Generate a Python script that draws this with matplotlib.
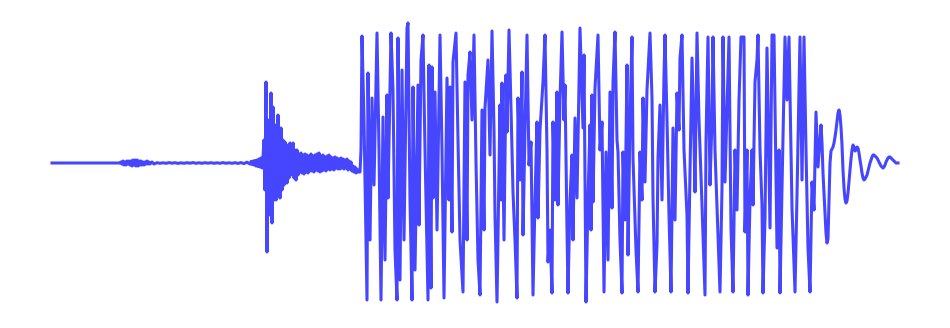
import matplotlib
matplotlib.use("Agg")
import numpy as np
import matplotlib.pyplot as plt

# waveform: time in 10 ms ticks, amplitude in arbitrary units
# quiet start + small first event
t_quiet = [0, 68, 69, 70, 71, 72, 73, 74, 75, 76, 77, 78, 79, 80, 81, 82, 83, 84, 85, 86,
           87, 88, 89, 90, 91, 92, 93, 94, 95, 96, 97, 98, 100, 102]
a_quiet = [0, 0, 1, -1, 2, -2, 1, -2, 2, -1, 2, -2, 2, -3, 3, -2, 3, -3, 3, -3,
           2, -2, 2, -2, 1, -2, 1, -1, 2, -1, 1, -1, 1, -1]

# low background noise
t_noise = [105, 108, 111, 114, 117, 120, 123, 126, 129, 132, 135, 138, 141, 144, 147, 150,
           153, 156, 159, 162, 165, 168, 171, 174, 177, 180, 183, 186, 189, 192, 195, 198]
a_noise = [0.3, -0.3, 0.2, -0.3, 0.4, -0.2, 0.3, -0.4, 0.2, -0.3, 0.3, -0.2, 0.4, -0.3, 0.2, -0.3,
           0.3, -0.2, 0.3, -0.3, 0.2, -0.3, 0.4, -0.3, 0.2, -0.3, 0.3, -0.4, 0.4, -0.6, 0.8, -1]

# second event (sharp onset, decaying)
t_event = [199, 200, 201, 202, 203, 204, 205, 206, 207, 208, 209, 210, 211, 212, 213, 214, 215,
           216, 217, 219, 220, 221, 222, 223, 224, 226, 227, 228, 229, 230, 231, 232, 233, 235,
           236, 237, 238, 239, 241, 242, 243, 244, 245, 246]
a_event = [1.5, -1.5, 2, -2, 2.5, -3, 3, -3.5, 4, -4, 5, -5, 6, 23, -27, 81, -89,
           43, -52, 70, -60, 56, -37, 38, -37, 48, -7, -35, 35, -27, 23, -22, 21, -20,
           18, -15, 20, -12, 20, -15, 13, -17, 13, -12]

t_decay = list(range(247, 307))
a_decay = [9, -9, 10, -10, 8, -11, 9, -9, 8, -10, 7, -8, 9, -8, 7, -9, 8, -7, 9, -8,
           10, -9, 7, -8, 8, -7, 6, -8, 7, -6, 8, -7, 6, -6, 5, -7, 6, -5, 5, -6,
           4, -6, 5, -5, 4, -6, 3, -5, 4, -7, 2, -6, 1, -8, -3, -9, -4, -10, -6, -9]

# strong shaking (clipped near +/-140)
t_strong = [308, 309, 310, 312, 315, 316, 318, 320, 322, 325, 327, 329, 331, 333, 335, 336, 339,
            341, 343, 345, 346, 348, 350, 352, 355, 356, 358, 360, 361, 363, 366, 367, 369, 371,
            373, 376, 377, 379, 380, 381, 383, 385, 388, 390, 392, 395, 397, 398, 400, 401, 404,
            406, 408, 411, 413, 415, 416, 418, 420, 422, 424, 426, 428, 430, 432, 433, 436, 438,
            440, 442, 443, 445, 448, 449, 450, 452, 454, 455, 457, 459, 461, 463, 465, 466, 468,
            470, 471, 473, 475, 477, 479, 481, 483, 485, 486, 488, 491, 493, 495, 496, 498, 500,
            501, 503, 505, 506, 508, 510, 512, 513, 515, 516, 518, 520, 521, 523, 525, 528, 531,
            532, 534, 536, 538, 539, 540, 541, 543, 546, 548, 550, 552, 554, 556, 558, 560, 561,
            563, 565, 566, 568, 570, 571, 573, 575, 576, 578, 580, 581, 584, 586, 588, 590, 591,
            593, 595, 598, 600, 601, 603, 605, 606, 608, 610, 612, 613, 615, 617, 619, 621, 623,
            625, 627, 628, 630, 632, 635, 636, 638, 640, 642, 643, 645, 647, 650, 653, 654, 656,
            658, 660, 661, 663, 665, 668, 670, 671, 673, 675, 677, 679, 681, 683, 685, 687, 689,
            692, 693, 695, 696, 698, 700, 701, 703, 705, 706, 708, 710, 711, 713, 715, 718, 720,
            722, 725, 727, 728, 730, 733, 735, 737, 740, 743, 745, 748, 750, 752, 754, 756, 758,
            760, 762, 764, 766, 768, 769, 770]
a_strong = [-9, 13, 127, 43, -137, 90, -77, 65, -22, 130, 13, -137, 46, -97, 68, -35, 130,
            73, -87, -137, 125, -117, 93, -77, 135, 140, -37, -137, 76, -107, 78, -62, 103, 128,
            13, -137, 98, -125, 96, -35, 71, -67, 128, 13, -135, 85, -37, 76, -69, 101, 130,
            23, -77, -129, 81, -77, 88, 111, 43, 128, 1, -97, -132, 53, -67, 55, 103, 8,
            132, 33, -52, -139, 58, -37, 80, -77, 88, 31, 133, 55, -29, -77, -135, 65, -17,
            91, -72, 33, 128, -2, 21, -132, -37, 41, -55, 33, 81, 128, 13, -99, -67, -130,
            41, -37, 71, -42, 63, 131, 43, 78, -67, -130, -37, 8, -77, 45, -35, 135, 35,
            108, -139, -37, 38, -67, 68, -39, 75, 128, 13, 41, -129, 11, -97, 71, -45, 81,
            131, 23, 11, -77, -130, 11, -57, 98, -92, 43, 126, 5, -87, -129, 11, -37, 65,
            -19, 73, 130, 65, -35, -129, -82, 5, 58, -37, 88, 128, 43, -52, -129, 35, -57,
            70, 33, 105, 128, 13, -52, -130, -9, 105, 23, -29, 130, 43, -42, -132, 21, 126,
            -22, 43, 126, 13, -45, -129, -25, 126, -19, 53, 126, -65, -129, 13, -47, 63, 126,
            126, -69, 13, -132, -37, 13, -42, 81, 103, 128, 13, -42, -130, -55, 115, -65, 128,
            128, -85, 13, -130, -25, 126, 63, 126, -45, -129, -32, 126, -17, 126, 13, -85, -129,
            -19, -47, 51, -4, 23, 38, 20]

# coda
t_coda = list(range(771, 847))
a_coda = [-10, -30, -52, -70, -80, -76, -40, 0, 12, 14, 16, 20, 26, 33, 42, 50, 53, 48, 36, 18,
          -7, -25, -36, -40, -38, -30, -18, -7, 4, 13, 18, 16, 12, 13, 16, 15, 10, 3, -3, -10,
          -15, -17, -16, -14, -12, -8, -4, 0, 3, 6, 8, 8, 7, 6, 5, 3, 1, -1, -3, -4,
          -5, -4, -2, 1, 3, 5, 6, 6, 5, 4, 3, 2, 1, 0, 0, 0]

t = np.concatenate([t_quiet, t_noise, t_event, t_decay, t_strong, t_coda])
amp = np.concatenate([a_quiet, a_noise, a_event, a_decay, a_strong, a_coda])

fig = plt.figure(figsize=(9.5, 3.28), dpi=100)
ax = fig.add_axes([0, 0, 1, 1])
ax.plot(t, amp, color="#4646ff", linewidth=2.2, solid_joinstyle="round")
ax.set_xlim(-52, 898)
ax.set_ylim(-165, 163)
ax.axis("off")
fig.savefig("out.png", dpi=100, facecolor="white")
